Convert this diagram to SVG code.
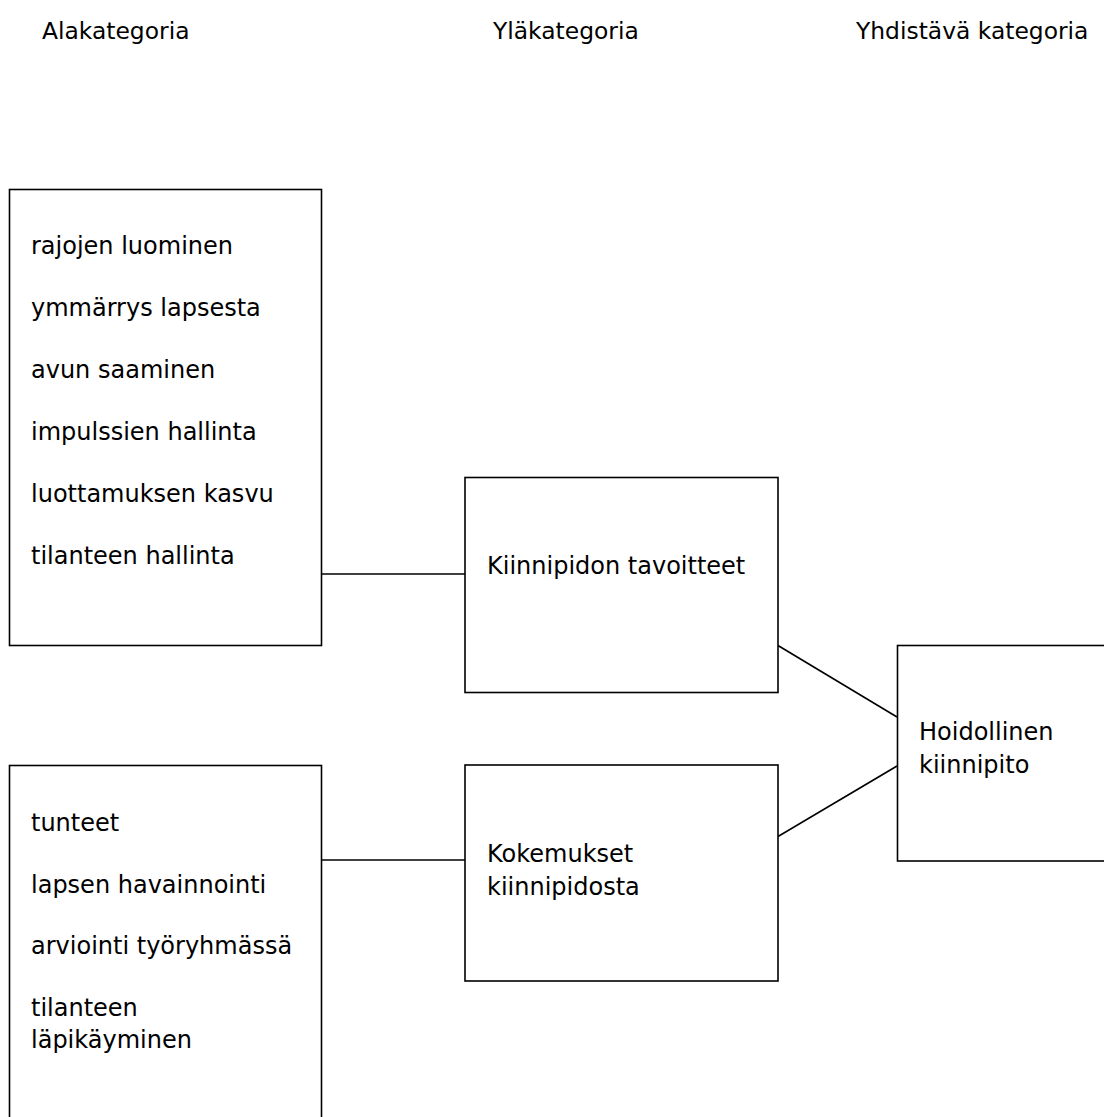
<svg xmlns="http://www.w3.org/2000/svg" width="1104" height="1117" viewBox="0 0 1104 1117">
<style>
.box{fill:#fff;stroke:#000;stroke-width:1.6}
.con{stroke:#000;stroke-width:1.6;fill:none}
text{font-family:"DejaVu Sans",Verdana,sans-serif;font-size:24px;fill:#000}
.hdr{font-size:23.4px}
</style>
<rect width="1104" height="1117" fill="#fff"/>
<g id="headers">
<text class="hdr" x="42" y="39">Alakategoria</text>
<text class="hdr" x="493" y="39">Yläkategoria</text>
<text class="hdr" x="856" y="39">Yhdistävä kategoria</text>
</g>
<g id="connectors">
<line class="con" x1="322" y1="574" x2="465" y2="574"/>
<line class="con" x1="322" y1="860" x2="465" y2="860"/>
<line class="con" x1="778" y1="645.5" x2="897" y2="717"/>
<line class="con" x1="778" y1="836.5" x2="897" y2="766"/>
</g>
<g id="node-alakategoria-1">
<rect class="box" x="9.5" y="189.5" width="312" height="456"/>
<text x="31" y="254">rajojen luominen</text>
<text x="31" y="316">ymmärrys lapsesta</text>
<text x="31" y="378">avun saaminen</text>
<text x="31" y="440">impulssien hallinta</text>
<text x="31" y="502">luottamuksen kasvu</text>
<text x="31" y="564">tilanteen hallinta</text>
</g>
<g id="node-alakategoria-2">
<rect class="box" x="9.5" y="765.5" width="312" height="400"/>
<text x="31" y="831">tunteet</text>
<text x="31" y="893">lapsen havainnointi</text>
<text x="31" y="954">arviointi työryhmässä</text>
<text x="31" y="1016">tilanteen</text>
<text x="31" y="1048">läpikäyminen</text>
</g>
<g id="node-tavoitteet">
<rect class="box" x="465" y="477.5" width="313" height="215"/>
<text x="487" y="574">Kiinnipidon tavoitteet</text>
</g>
<g id="node-kokemukset">
<rect class="box" x="465" y="765" width="313" height="216"/>
<text x="487" y="862">Kokemukset</text>
<text x="487" y="895">kiinnipidosta</text>
</g>
<g id="node-hoidollinen">
<rect class="box" x="897.5" y="645.5" width="250" height="215.5"/>
<text x="919" y="740">Hoidollinen</text>
<text x="919" y="773">kiinnipito</text>
</g>
</svg>
